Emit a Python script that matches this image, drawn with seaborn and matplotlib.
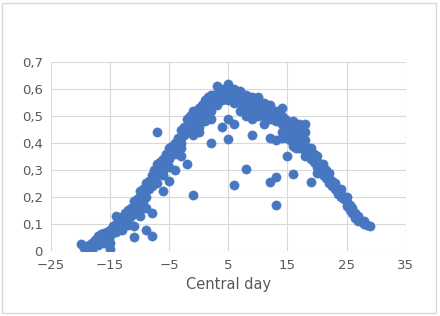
import matplotlib
matplotlib.use("Agg")
import matplotlib.pyplot as plt
import seaborn as sns
import pandas as pd
from matplotlib.ticker import FuncFormatter

# Wartości: dzień centralny -> lista wartości
values_by_day = {
    -20: [0.025],
    -19.5: [0.01],
    -19: [0.0, 0.01],
    -18.5: [0.02],
    -18: [0.0, 0.02, 0.03],
    -17.5: [0.04, 0.03],
    -17: [0.055, 0.03, 0.02],
    -16.5: [0.06, 0.04],
    -16: [0.065, 0.045, 0.03],
    -15.5: [0.07, 0.05],
    -15: [0.075, 0.055, 0.03, 0.005],
    -14.5: [0.09, 0.07],
    -14: [0.13, 0.10, 0.08, 0.07],
    -13.5: [0.11, 0.09],
    -13: [0.125, 0.10, 0.085, 0.075],
    -12.5: [0.14, 0.11],
    -12: [0.15, 0.13, 0.11, 0.095],
    -11.5: [0.16, 0.13],
    -11: [0.185, 0.16, 0.14, 0.09, 0.05],
    -10.5: [0.19, 0.16, 0.14],
    -10: [0.22, 0.20, 0.17, 0.15, 0.13],
    -9.5: [0.23, 0.20, 0.18],
    -9: [0.25, 0.23, 0.20, 0.16, 0.075],
    -8.5: [0.26, 0.23],
    -8: [0.28, 0.26, 0.24, 0.14, 0.055],
    -7.5: [0.30, 0.27],
    -7: [0.44, 0.32, 0.30, 0.28, 0.25],
    -6.5: [0.33, 0.30],
    -6: [0.34, 0.32, 0.30, 0.28, 0.22],
    -5.5: [0.36, 0.33],
    -5: [0.38, 0.36, 0.34, 0.31, 0.26],
    -4.5: [0.39, 0.36],
    -4: [0.40, 0.38, 0.36, 0.30],
    -3.5: [0.42, 0.39],
    -3: [0.45, 0.42, 0.40, 0.38, 0.35],
    -2.5: [0.46, 0.43],
    -2: [0.49, 0.46, 0.44, 0.32],
    -1.5: [0.50, 0.47],
    -1: [0.52, 0.50, 0.47, 0.45, 0.43, 0.205],
    -0.5: [0.52, 0.49],
    0: [0.53, 0.51, 0.49, 0.46, 0.44],
    0.5: [0.54, 0.51],
    1: [0.56, 0.54, 0.52, 0.50, 0.48],
    1.5: [0.57, 0.54],
    2: [0.58, 0.56, 0.54, 0.52, 0.49, 0.40],
    2.5: [0.58, 0.55],
    3: [0.61, 0.58, 0.56, 0.54],
    3.5: [0.59, 0.57],
    4: [0.60, 0.58, 0.56, 0.46],
    4.5: [0.60, 0.57],
    5: [0.62, 0.60, 0.58, 0.56, 0.49, 0.415],
    5.5: [0.60, 0.57],
    6: [0.60, 0.58, 0.55, 0.47, 0.245],
    6.5: [0.59, 0.56],
    7: [0.595, 0.57, 0.55, 0.52],
    7.5: [0.58, 0.55],
    8: [0.58, 0.56, 0.53, 0.50, 0.305],
    8.5: [0.57, 0.54],
    9: [0.57, 0.55, 0.52, 0.49, 0.43],
    9.5: [0.56, 0.53],
    10: [0.57, 0.55, 0.52, 0.50],
    10.5: [0.55, 0.52],
    11: [0.55, 0.53, 0.50, 0.47],
    11.5: [0.54, 0.51],
    12: [0.54, 0.52, 0.49, 0.42, 0.255],
    12.5: [0.52, 0.49],
    13: [0.52, 0.50, 0.48, 0.41, 0.275, 0.17],
    13.5: [0.51, 0.48],
    14: [0.53, 0.50, 0.47, 0.44, 0.42],
    14.5: [0.49, 0.46, 0.43],
    15: [0.48, 0.46, 0.44, 0.42, 0.35],
    15.5: [0.47, 0.44, 0.41],
    16: [0.48, 0.45, 0.42, 0.39, 0.285],
    16.5: [0.46, 0.43, 0.40, 0.38],
    17: [0.47, 0.44, 0.41, 0.38],
    17.5: [0.45, 0.42, 0.39],
    18: [0.47, 0.44, 0.41, 0.37, 0.35],
    18.5: [0.38, 0.35],
    19: [0.38, 0.36, 0.34, 0.255],
    19.5: [0.36, 0.33],
    20: [0.35, 0.33, 0.31, 0.29],
    20.5: [0.32, 0.30],
    21: [0.32, 0.30, 0.28],
    21.5: [0.30, 0.27],
    22: [0.29, 0.27, 0.25],
    22.5: [0.26, 0.24],
    23: [0.25, 0.23],
    23.5: [0.23, 0.21],
    24: [0.23, 0.21, 0.20],
    24.5: [0.20, 0.19],
    25: [0.20, 0.18, 0.165],
    25.5: [0.17, 0.15],
    26: [0.16, 0.14],
    26.5: [0.14, 0.12],
    27: [0.13, 0.11],
    27.5: [0.11],
    28: [0.11, 0.10],
    28.5: [0.095],
    29: [0.09],
}

x_ticks = [-25, -15, -5, 5, 15, 25, 35]
y_ticks = [0, 0.1, 0.2, 0.3, 0.4, 0.5, 0.6, 0.7]

days = [d for d, vs in values_by_day.items() for _ in vs]
vals = [v for d, vs in values_by_day.items() for v in vs]
df = pd.DataFrame({"day": days, "value": vals})

sns.set_style("white")
fig = plt.figure(figsize=(4.4, 3.16), dpi=100)
ax = fig.add_axes([0.116, 0.207, 0.806, 0.596])

kolor = "#4677c0"
sns.scatterplot(data=df, x="day", y="value", ax=ax, color=kolor,
                s=44, linewidth=0.4, edgecolor=kolor, zorder=3)

ax.set_xlim(-25, 35)
ax.set_ylim(0, 0.7)
ax.set_xticks(x_ticks)
ax.set_yticks(y_ticks)
ax.yaxis.set_major_formatter(FuncFormatter(lambda v, p: "0" if v == 0 else f"{v:.1f}".replace(".", ",")))
ax.grid(True, color="#d9d9d9", linewidth=0.8, zorder=0)
ax.set_axisbelow(True)
for s in ax.spines.values():
    s.set_visible(False)
ax.tick_params(length=0, labelsize=9.5, labelcolor="#595959", pad=6)
ax.set_xlabel("Central day", fontsize=10.5, color="#595959", labelpad=4)
ax.set_ylabel("")

# ramka wokół całego wykresu
fig.patches.append(plt.Rectangle((0.005, 0.01), 0.985, 0.98, transform=fig.transFigure,
                                 fill=False, edgecolor="#d9d9d9", linewidth=1))

fig.savefig("out.png", dpi=100)
